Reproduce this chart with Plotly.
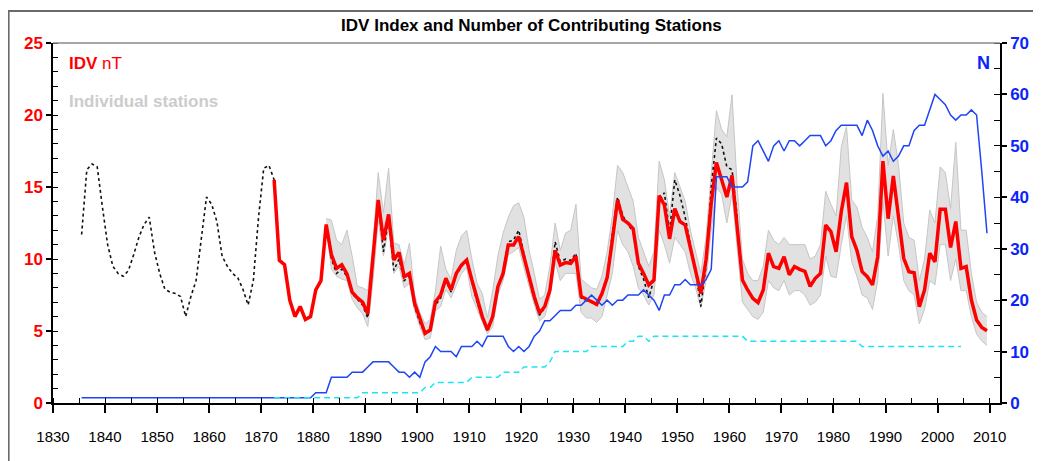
import plotly.graph_objects as go

# ---------------- data ----------------
idv_years = list(range(1872, 2010))
idv = [
    15.5, 9.9, 9.6, 7.15, 6.0, 6.7, 5.8, 6.0,
    7.85, 8.5, 12.4, 10.3, 9.35, 9.6, 8.96, 7.7, 7.3, 7.0,
    6.2, 10.0, 14.1, 11.3, 13.1, 9.93, 10.46, 8.77, 9.0, 6.92,
    5.88, 4.84, 5.07, 7.04, 7.5, 8.66, 7.85, 9.0, 9.58, 9.93,
    8.54, 7.15, 6.0, 5.07, 6.0, 8.08, 9.0, 10.97, 10.97, 11.55,
    10.16, 8.77, 7.38, 6.23, 6.7, 7.85, 10.6, 9.58, 9.75, 9.7,
    10.2, 7.4, 7.2, 7.0, 6.85, 7.6, 8.7, 11.3, 14.1, 12.75,
    12.5, 12.1, 9.7, 9.0, 8.2, 8.54, 14.4, 13.75, 11.4, 13.5,
    12.6, 12.36, 10.85, 9.35, 7.6, 9.93, 13.87, 16.7, 15.4, 14.3,
    15.8, 12.1, 8.54, 7.85, 7.27, 6.97, 7.85, 10.4, 9.47, 9.35,
    10.16, 8.9, 9.47, 9.28, 9.15, 8.1, 8.66, 9.0, 12.36, 11.9,
    10.5, 13.3, 15.3, 11.55, 10.6, 9.12, 8.77, 8.2, 10.16, 16.8,
    12.8, 15.76, 12.94, 10.05, 9.12, 9.05, 6.69, 7.85, 10.4, 9.81,
    13.45, 13.45, 10.8, 12.6, 9.35, 9.47, 7.15, 5.76, 5.25, 5.02,
]

old_years = list(range(1835, 1962))
idv_old = [
    11.7, 16.2, 16.6, 16.4, 13.6,
    11.0, 9.5, 9.0, 8.8, 9.2, 10.3, 11.5, 12.4, 12.9, 10.5,
    9.0, 7.9, 7.7, 7.6, 7.4, 6.0, 7.4, 8.5, 11.4, 14.3,
    13.8, 12.6, 10.2, 9.5, 9.0, 8.7, 7.9, 6.8, 8.5, 12.9,
    16.3, 16.5, 15.5, 9.9, 9.6, 7.2, 6.0, 6.7, 5.8, 6.0,
    7.8, 8.5, 12.4, 10.0, 9.0, 9.3, 8.8, 7.6, 7.2, 6.8,
    5.9, 9.8, 14.1, 10.5, 12.8, 9.2, 10.0, 8.5, 8.8, 6.7,
    5.6, 4.8, 5.0, 6.8, 7.3, 8.5, 7.7, 8.9, 9.5, 9.9,
    8.4, 7.0, 5.9, 5.0, 5.9, 8.0, 9.1, 11.2, 11.3, 12.0,
    10.4, 8.6, 7.2, 6.1, 6.6, 7.8, 11.2, 9.8, 10.0, 9.9,
    10.4, 7.3, 7.1, 7.0, 6.8, 7.5, 8.8, 11.8, 14.3, 13.0,
    12.4, 11.9, 9.5, 8.6, 7.3, 8.6, 14.0, 14.6, 11.9, 15.5,
    14.4, 12.9, 11.0, 9.2, 6.7, 9.5, 15.0, 18.4, 18.0, 16.4,
    16.2, 12.9,
]

station_years = list(range(1882, 2010))
stations_high = [
    12.8, 12.7, 11.3, 11.0, 12.0, 10.2, 8.1, 8.0,
    7.8, 11.0, 16.0, 13.2, 16.3, 11.1, 11.0, 9.6, 11.1, 7.5,
    6.3, 5.5, 5.8, 7.8, 10.9, 9.3, 8.6, 10.6, 11.6, 12.0,
    10.0, 8.3, 7.6, 5.9, 7.8, 10.2, 11.8, 12.9, 13.7, 13.9,
    12.9, 10.6, 9.0, 7.2, 7.5, 9.5, 12.5, 10.6, 11.8, 12.0,
    13.8, 8.6, 8.3, 8.0, 7.9, 8.8, 10.5, 13.0, 16.5, 16.0,
    15.0, 14.0, 11.5, 10.5, 9.5, 10.5, 16.8, 15.5, 13.0, 16.0,
    15.0, 14.0, 12.0, 10.5, 9.0, 11.5, 16.2, 20.3, 19.0, 18.5,
    21.4, 15.0, 10.0, 9.0, 8.5, 8.5, 9.5, 12.0, 11.3, 11.0,
    11.5, 11.0, 11.0, 11.0, 11.0, 10.0, 10.2, 11.0, 14.7, 13.8,
    13.0, 17.8, 19.2, 14.1, 13.6, 12.2, 11.5, 10.5, 13.0, 21.5,
    16.5, 19.0, 16.5, 12.5, 11.5, 11.3, 8.5, 10.0, 13.4, 12.5,
    16.4, 16.0, 13.5, 18.1, 12.0, 12.0, 9.0, 7.0, 6.3, 6.0,
]
stations_low = [
    12.2, 9.3, 8.8, 8.6, 8.5, 7.2, 6.6, 6.2,
    5.3, 8.5, 12.7, 10.2, 12.2, 9.0, 9.5, 8.0, 8.3, 6.4,
    5.3, 4.4, 4.5, 6.4, 6.7, 7.9, 7.3, 8.1, 9.0, 9.4,
    7.4, 6.5, 5.6, 4.8, 5.3, 7.5, 8.5, 10.3, 10.5, 10.8,
    9.4, 8.0, 6.8, 5.7, 6.0, 7.3, 9.8, 8.5, 9.0, 9.0,
    9.0, 6.3, 5.9, 5.9, 5.6, 6.0, 7.5, 9.0, 12.0, 11.0,
    10.5, 9.5, 8.0, 7.5, 6.8, 7.5, 12.0, 11.0, 9.7, 11.5,
    11.0, 10.5, 9.0, 8.0, 6.6, 8.5, 12.0, 15.0, 14.5, 12.5,
    14.5, 11.0, 7.0, 6.5, 6.0, 5.8, 6.3, 8.5, 8.0, 7.8,
    8.5, 7.5, 7.8, 7.8, 7.5, 6.8, 7.0, 7.5, 10.2, 8.8,
    8.7, 11.0, 13.0, 9.8, 8.8, 7.5, 7.3, 6.5, 8.5, 14.0,
    10.2, 13.0, 11.0, 8.5, 7.8, 7.5, 5.5, 6.5, 8.5, 8.2,
    11.0, 11.0, 8.5, 10.0, 7.8, 7.8, 6.0, 4.8, 4.3, 4.0,
]

n_years = list(range(1835, 2010))
n_stations = [
    1, 1, 1, 1, 1,
    1, 1, 1, 1, 1, 1, 1, 1, 1, 1,
    1, 1, 1, 1, 1, 1, 1, 1, 1, 1,
    1, 1, 1, 1, 1, 1, 1, 1, 1, 1,
    1, 1, 1, 1, 1, 1, 1, 1, 1, 1,
    2, 2, 2, 5, 5, 5, 5, 6, 6, 6,
    7, 8, 8, 8, 8, 7, 6, 6, 5, 6,
    5, 8, 9, 11, 10, 10, 10, 9, 11, 11,
    11, 12, 11, 13, 13, 13, 13, 11, 10, 11,
    10, 11, 13, 14, 16, 16, 17, 18, 18, 18,
    19, 19, 20, 21, 20, 19, 20, 19, 20, 20,
    21, 21, 21, 22, 21, 20, 18, 21, 21, 23,
    23, 24, 23, 23, 23, 24, 26, 44, 44, 44,
    42, 42, 42, 43, 50, 51, 49, 47, 50, 51,
    49, 51, 51, 50, 51, 52, 52, 52, 50, 51,
    53, 54, 54, 54, 54, 52, 55, 53, 50, 48,
    49, 47, 48, 50, 50, 53, 54, 54, 57, 60,
    59, 58, 56, 55, 56, 56, 57, 56, 45, 33,
]

c_years = list(range(1872, 2005))
n_cyan = [
    1, 1, 1, 1, 1, 1, 1, 1,
    1, 1, 1, 1, 1, 1, 1, 1, 1, 2,
    2, 2, 2, 2, 2, 2, 2, 2, 2, 2,
    2, 3, 3, 4, 4, 4, 4, 4, 4, 4,
    5, 5, 5, 5, 5, 5, 6, 6, 6, 6,
    7, 7, 7, 7, 7, 8, 10, 10, 10, 10,
    10, 10, 10, 11, 11, 11, 11, 11, 11, 11,
    12, 12, 13, 13, 12, 13, 13, 13, 13, 13,
    13, 13, 13, 13, 13, 13, 13, 13, 13, 13,
    13, 13, 13, 12, 12, 12, 12, 12, 12, 12,
    12, 12, 12, 12, 12, 12, 12, 12, 12, 12,
    12, 12, 12, 12, 12, 11, 11, 11, 11, 11,
    11, 11, 11, 11, 11, 11, 11, 11, 11, 11,
    11, 11, 11, 11, 11,
]

x_ticks = list(range(1830, 2011, 10))

# annual means plotted at mid-year
def mid(years):
    return [y + 0.5 for y in years]

FONT = "Liberation Sans, Arial, sans-serif"
RED = "#ff0000"
BLUE = "#0b24fb"
BLUE_LINE = "#1f45f5"
GRAY = "#c6c6c6"

fig = go.Figure()

# individual stations envelope
fig.add_trace(go.Scatter(x=mid(station_years), y=stations_low, mode="lines",
                         line=dict(color=GRAY, width=1), hoverinfo="skip", showlegend=False))
fig.add_trace(go.Scatter(x=mid(station_years), y=stations_high, mode="lines",
                         line=dict(color=GRAY, width=1), fill="tonexty",
                         fillcolor="rgba(205,205,205,0.6)", hoverinfo="skip", showlegend=False))
# older IDV estimate (black dotted)
fig.add_trace(go.Scatter(x=mid(old_years), y=idv_old, mode="lines",
                         line=dict(color="#111111", width=1.6, dash="3px,3px"), showlegend=False))
# IDV index (red)
fig.add_trace(go.Scatter(x=mid(idv_years), y=idv, mode="lines",
                         line=dict(color=RED, width=3.5), showlegend=False))
# number of stations (right axis)
fig.add_trace(go.Scatter(x=mid(n_years), y=n_stations, mode="lines", yaxis="y2",
                         line=dict(color=BLUE_LINE, width=1.5), showlegend=False))
fig.add_trace(go.Scatter(x=mid(c_years), y=n_cyan, mode="lines", yaxis="y2",
                         line=dict(color="#19e6f5", width=1.5, dash="6px,4px"), showlegend=False))

axis_common = dict(showgrid=False, zeroline=False, showline=True, linecolor="black",
                   linewidth=1.5, tickcolor="black", tickwidth=1.5)

W, H = 1033, 453   # page adds an 8px body margin
fig.update_layout(
    width=W, height=H,
    margin=dict(l=45, r=39, t=35, b=58),
    paper_bgcolor="white", plot_bgcolor="white",
    title=dict(text="<b>IDV Index and Number of Contributing Stations</b>",
               x=0.5067, xanchor="center", y=1 - 17 / H, yanchor="middle",
               font=dict(family=FONT, size=17, color="black")),
    xaxis=dict(range=[1830, 2012], tickmode="array", tickvals=x_ticks,
               ticks="outside", ticklen=8, ticklabelstandoff=11,
               tickfont=dict(family=FONT, size=15, color="black"),
               minor=dict(dtick=5, tick0=1830, ticks="inside", ticklen=5,
                          tickcolor="black", tickwidth=1.2),
               **axis_common),
    yaxis=dict(range=[0, 25], dtick=5, tick0=0, ticks="outside", ticklen=5,
               tickfont=dict(family=FONT, size=17, color=RED, weight="bold"),
               minor=dict(dtick=1, ticks="inside", ticklen=5, tickcolor="black", tickwidth=1.2),
               **axis_common),
    yaxis2=dict(range=[0, 70], dtick=10, tick0=0, overlaying="y", side="right",
                ticks="outside", ticklen=5,
                tickfont=dict(family=FONT, size=17, color=BLUE, weight="bold"),
                minor=dict(dtick=5, ticks="inside", ticklen=6, tickcolor="black", tickwidth=1.2),
                **axis_common),
    # inner halves of the crossing major ticks
    xaxis2=dict(range=[1830, 2012], overlaying="x", anchor="y", side="bottom",
                tickmode="array", tickvals=x_ticks, ticks="inside", ticklen=8,
                tickcolor="black", tickwidth=1.5, showticklabels=False,
                showgrid=False, zeroline=False, showline=False),
    yaxis3=dict(range=[0, 25], dtick=5, overlaying="y", side="left", anchor="x",
                ticks="inside", ticklen=5, tickcolor="black", tickwidth=1.5,
                showticklabels=False, showgrid=False, zeroline=False, showline=False),
    yaxis4=dict(range=[0, 70], dtick=10, overlaying="y", side="right", anchor="x",
                ticks="inside", ticklen=6, tickcolor="black", tickwidth=1.5,
                showticklabels=False, showgrid=False, zeroline=False, showline=False),
    shapes=[
        dict(type="line", xref="paper", yref="paper", x0=0, x1=1, y0=1, y1=1,
             line=dict(color="#8a8a8a", width=1.5), layer="above"),
        dict(type="rect", xref="paper", yref="paper",
             x0=-44.5 / 949, x1=1.08, y0=-0.3, y1=(403 - 11) / 360,
             line=dict(color="#6a6a6a", width=2), fillcolor="rgba(0,0,0,0)"),
    ],
    annotations=[
        dict(text="<b>IDV</b> nT", xref="paper", yref="paper", x=14 / 949, y=(403 - 63) / 360,
             xanchor="left", yanchor="middle", showarrow=False,
             font=dict(family=FONT, size=17, color=RED)),
        dict(text="<b>Individual stations</b>", xref="paper", yref="paper", x=14 / 949,
             y=(403 - 101) / 360, xanchor="left", yanchor="middle", showarrow=False,
             font=dict(family=FONT, size=17, color="#cccccc")),
        dict(text="<b>N</b>", xref="paper", yref="paper", x=(994 - 53) / 949, y=(403 - 63) / 360,
             xanchor="right", yanchor="middle", showarrow=False,
             font=dict(family=FONT, size=18, color=BLUE)),
    ],
)

fig.write_html("out.html")
